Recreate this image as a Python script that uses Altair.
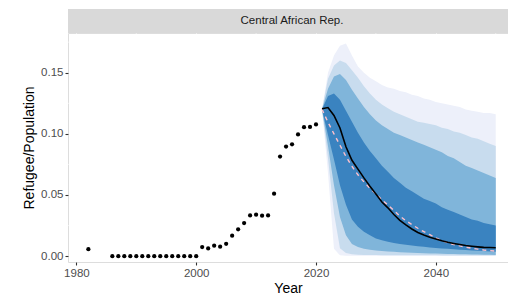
import altair as alt
import pandas as pd

# ---------------- data ----------------
obs_years = [1982, 1986, 1987, 1988, 1989, 1990, 1991, 1992, 1993, 1994, 1995,
             1996, 1997, 1998, 1999, 2000, 2001, 2002, 2003, 2004, 2005, 2006,
             2007, 2008, 2009, 2010, 2011, 2012, 2013, 2014, 2015, 2016, 2017,
             2018, 2019, 2020]
obs_values = [0.0057, 0.0, 0.0, 0.0, 0.0, 0.0, 0.0, 0.0, 0.0, 0.0, 0.0,
              0.0, 0.0, 0.0, 0.0, 0.0, 0.0074, 0.0063, 0.0085, 0.0077, 0.0101, 0.0167,
              0.0219, 0.0270, 0.0333, 0.0339, 0.0331, 0.0333, 0.0511, 0.0814, 0.0896, 0.0915, 0.0995,
              0.1055, 0.1057, 0.1077]

fc_years = [2021, 2022, 2023, 2024, 2025, 2026, 2027, 2028, 2029, 2030,
            2031, 2032, 2033, 2034, 2035, 2036, 2037, 2038, 2039, 2040,
            2041, 2042, 2043, 2044, 2045, 2046, 2047, 2048, 2049, 2050]

mean_line = [0.1205, 0.1215, 0.1150, 0.1048, 0.0895, 0.0784, 0.0712, 0.0640, 0.0572, 0.0508,
             0.0443, 0.0395, 0.0340, 0.0293, 0.0255, 0.0222, 0.0193, 0.0172, 0.0154, 0.0140,
             0.0126, 0.0114, 0.0104, 0.0095, 0.0087, 0.0081, 0.0076, 0.0072, 0.0070, 0.0068]
median_line = [0.1200, 0.1095, 0.1000, 0.0907, 0.0815, 0.0735, 0.0665, 0.0607, 0.0555, 0.0508,
               0.0460, 0.0418, 0.0375, 0.0328, 0.0290, 0.0258, 0.0228, 0.0200, 0.0175, 0.0150,
               0.0128, 0.0108, 0.0095, 0.0084, 0.0074, 0.0065, 0.0057, 0.0050, 0.0045, 0.0041]

b4_hi = [0.120, 0.150, 0.164, 0.172, 0.174, 0.164, 0.155, 0.150, 0.146, 0.143,
         0.140, 0.138, 0.137, 0.135, 0.134, 0.132, 0.131, 0.129, 0.128, 0.126,
         0.125, 0.124, 0.123, 0.122, 0.120, 0.119, 0.118, 0.117, 0.117, 0.116]
b4_lo = [0.120, 0.068, 0.006, 0.0008, 0.0004, 0.0003, 0.0003, 0.0003, 0.0003, 0.0003,
         0.0003, 0.0003, 0.0003, 0.0003, 0.0003, 0.0003, 0.0003, 0.0003, 0.0003, 0.0003,
         0.0003, 0.0003, 0.0003, 0.0003, 0.0003, 0.0003, 0.0003, 0.0003, 0.0003, 0.0003]
b3_hi = [0.120, 0.145, 0.156, 0.160, 0.158, 0.152, 0.146, 0.139, 0.133, 0.128,
         0.124, 0.121, 0.118, 0.116, 0.114, 0.112, 0.110, 0.109, 0.108, 0.107,
         0.105, 0.104, 0.102, 0.101, 0.099, 0.097, 0.096, 0.094, 0.092, 0.090]
b3_lo = [0.120, 0.080, 0.035, 0.0065, 0.0025, 0.0015, 0.0012, 0.0010, 0.0009, 0.0009,
         0.0008, 0.0008, 0.0008, 0.0008, 0.0007, 0.0007, 0.0007, 0.0007, 0.0007, 0.0007,
         0.0006, 0.0006, 0.0006, 0.0006, 0.0006, 0.0006, 0.0005, 0.0005, 0.0005, 0.0005]
b2_hi = [0.120, 0.137, 0.147, 0.149, 0.144, 0.136, 0.129, 0.122, 0.116, 0.111,
         0.107, 0.104, 0.101, 0.099, 0.097, 0.095, 0.093, 0.091, 0.089, 0.087,
         0.085, 0.082, 0.080, 0.077, 0.074, 0.072, 0.070, 0.068, 0.066, 0.064]
b2_lo = [0.120, 0.090, 0.058, 0.032, 0.017, 0.010, 0.0075, 0.0060, 0.0052, 0.0046,
         0.0042, 0.0038, 0.0035, 0.0032, 0.0030, 0.0028, 0.0026, 0.0024, 0.0022, 0.0021,
         0.0020, 0.0018, 0.0017, 0.0016, 0.0015, 0.0014, 0.0013, 0.0012, 0.0011, 0.0010]
b1_hi = [0.120, 0.131, 0.133, 0.128, 0.119, 0.110, 0.101, 0.093, 0.086, 0.080,
         0.074, 0.069, 0.064, 0.060, 0.056, 0.053, 0.050, 0.047, 0.045, 0.043,
         0.040, 0.038, 0.036, 0.034, 0.032, 0.030, 0.029, 0.027, 0.026, 0.025]
b1_lo = [0.120, 0.099, 0.079, 0.058, 0.042, 0.030, 0.024, 0.020, 0.017, 0.0145,
         0.0130, 0.0118, 0.0108, 0.0100, 0.0093, 0.0087, 0.0081, 0.0076, 0.0071, 0.0067,
         0.0063, 0.0060, 0.0056, 0.0053, 0.0050, 0.0047, 0.0044, 0.0041, 0.0038, 0.0036]

band_colors = ["#edf0fa", "#c8dcee", "#80b5da", "#3a83c0"]

x_major = [1980, 2000, 2020, 2040]
x_minor = [1990, 2010, 2030, 2050]
y_major = [0.00, 0.05, 0.10, 0.15]
y_minor = [0.025, 0.075, 0.125, 0.175]
x_domain = [1978.6, 2052.05]
y_domain = [-0.0048, 0.1825]

panel_title = "Central African Rep."

# ---------------- chart ----------------
W, H = 440, 229
FONT = "Liberation Sans"

obs_df = pd.DataFrame({"Year": obs_years, "value": obs_values})
fc_df = pd.DataFrame({"Year": fc_years, "mean": mean_line, "median": median_line,
                      "b4_hi": b4_hi, "b4_lo": b4_lo, "b3_hi": b3_hi, "b3_lo": b3_lo,
                      "b2_hi": b2_hi, "b2_lo": b2_lo, "b1_hi": b1_hi, "b1_lo": b1_lo})

xs = alt.Scale(domain=x_domain, nice=False, zero=False)
ys = alt.Scale(domain=y_domain, nice=False, zero=False)

x_axis = alt.Axis(values=x_major, format="d", title="Year", grid=True,
                  gridColor="white", gridWidth=1.1, domain=False,
                  tickColor="#333333", tickSize=3, tickWidth=1.1,
                  labelColor="#4d4d4d", labelFontSize=11.5, labelPadding=2,
                  labelFont=FONT, titleFont=FONT, titleFontSize=14,
                  titleFontWeight="normal", titleColor="black", titlePadding=3)
y_axis = alt.Axis(values=y_major, format=".2f", title="Refugee/Population", grid=True,
                  gridColor="white", gridWidth=1.1, domain=False,
                  tickColor="#333333", tickSize=3, tickWidth=1.1,
                  labelColor="#4d4d4d", labelFontSize=11.5, labelPadding=2,
                  labelFont=FONT, titleFont=FONT, titleFontSize=14,
                  titleFontWeight="normal", titleColor="black", titlePadding=4)

minor_x_rules = alt.Chart(pd.DataFrame({"Year": x_minor})).mark_rule(
    color="white", strokeWidth=0.55).encode(
    x=alt.X("Year:Q", scale=xs, axis=x_axis))
minor_y_rules = alt.Chart(pd.DataFrame({"value": y_minor})).mark_rule(
    color="white", strokeWidth=0.55).encode(
    y=alt.Y("value:Q", scale=ys, axis=y_axis))

base = alt.Chart(fc_df)
bands = []
for name, col in zip(["b4", "b3", "b2", "b1"], band_colors):
    bands.append(base.mark_area(color=col, opacity=1).encode(
        x=alt.X("Year:Q", scale=xs),
        y=alt.Y(f"{name}_hi:Q", scale=ys),
        y2=alt.Y2(f"{name}_lo:Q")))

median_layer = base.mark_line(color="#ffc0cb", strokeWidth=1.4, strokeDash=[4, 4]).encode(
    x=alt.X("Year:Q", scale=xs), y=alt.Y("median:Q", scale=ys))
mean_layer = base.mark_line(color="black", strokeWidth=1.6).encode(
    x=alt.X("Year:Q", scale=xs), y=alt.Y("mean:Q", scale=ys))

points = alt.Chart(obs_df).mark_circle(color="black", size=18, opacity=1).encode(
    x=alt.X("Year:Q", scale=xs), y=alt.Y("value:Q", scale=ys))

strip_df = pd.DataFrame({"label": [panel_title]})
strip = alt.Chart(strip_df).mark_rect(color="#d9d9d9", clip=False).encode(
    x=alt.value(0), x2=alt.value(W), y=alt.value(-24), y2=alt.value(0))
strip_text = alt.Chart(strip_df).mark_text(
    font=FONT, fontSize=11.5, color="#1a1a1a", baseline="middle", align="center").encode(
    x=alt.value(224), y=alt.value(-12), text="label:N")

chart = alt.layer(minor_x_rules, minor_y_rules, *bands, median_layer, mean_layer,
                  points, strip, strip_text).properties(
    width=W, height=H,
    autosize=alt.AutoSizeParams(type="none"),
    padding={"left": 60, "top": 25, "right": 0, "bottom": 36},
).configure_view(fill="#ebebeb", stroke=None).configure(background="white")

chart.save("out.html", embed_options={"renderer": "svg", "actions": False})
